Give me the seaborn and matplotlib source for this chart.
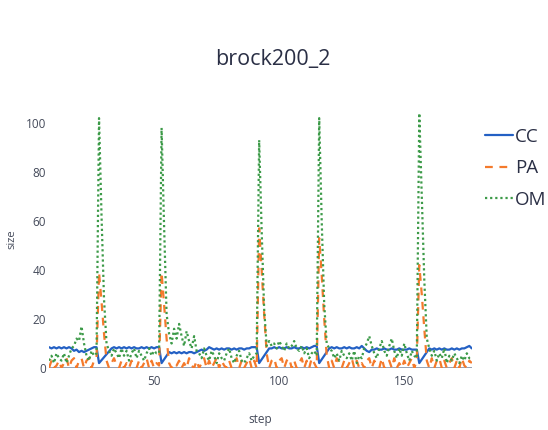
import numpy as np
import pandas as pd
import seaborn as sns
import matplotlib.pyplot as plt

# steps shown on the x axis
steps = list(range(8, 178))

cc = [8.5, 8, 8.5, 8, 8.5, 8, 8.5, 8, 8.5, 8,
      7, 7.5, 6.5, 7, 6.5, 7, 7.5, 8, 8.5, 8.5,
      2, 3.2, 4.4, 5.6, 6.8, 8, 8.5, 8, 8.5, 8,
      8.5, 8, 8.5, 8, 8.5, 8, 8, 8.5, 8, 8.5,
      8, 8.5, 8, 8.5, 8.5, 2, 3.5, 5, 6.5, 6,
      6.5, 6, 6.5, 6, 6.5, 6, 6.5, 6.5, 6, 6.5,
      7, 7.5, 7, 7.5, 8.5, 8, 7.5, 8, 7.5, 8,
      7.5, 8, 8, 7.5, 8, 7.5, 8, 8, 7.5, 8,
      8, 8.5, 8.5, 8.5, 2, 3.5, 5, 6.5, 8, 8,
      8.5, 8, 8.5, 8, 8, 8.5, 8, 8, 8.5, 8,
      8, 8.5, 8, 8.5, 8, 8.5, 9, 9, 2, 3.5,
      5, 6.5, 8, 8.5, 8, 8.5, 8, 8, 8.5, 8,
      8.5, 8, 8, 8.5, 8, 9, 8, 7, 6.5, 7.5,
      7.5, 8, 7.5, 7.5, 8, 7.5, 7.5, 8, 7.5, 7.5,
      8, 7.5, 7.5, 7.5, 8, 7.5, 7.5, 7.5, 2, 3.5,
      5, 6.5, 8, 7.5, 8, 7.5, 8, 7.5, 8, 7.5,
      7.5, 8, 7.5, 8, 7.5, 8, 8, 8.5, 9, 8]

pa = [0, 3, 0, 1, 3, 0, 2, 4, 0, 3,
      4, 0, 3, 4, 0, 3, 4, 0, 3, 4,
      39, 27, 14, 3, 0, 2, 4, 1, 0, 3,
      0, 2, 0, 3, 1, 0, 3, 0, 2, 4,
      0, 3, 0, 2, 1, 39, 26, 12, 2, 0,
      2, 1, 3, 0, 2, 0, 4, 1, 0, 3,
      0, 2, 4, 0, 3, 0, 2, 4, 0, 3,
      1, 0, 3, 0, 2, 4, 0, 3, 0, 2,
      4, 0, 3, 0, 57, 40, 22, 6, 0, 3,
      4, 0, 3, 4, 0, 3, 4, 0, 3, 0,
      2, 4, 0, 3, 0, 4, 2, 0, 53, 38,
      20, 5, 0, 3, 0, 4, 2, 0, 3, 0,
      2, 4, 0, 3, 0, 2, 0, 3, 4, 0,
      3, 1, 0, 4, 0, 2, 3, 0, 4, 0,
      2, 0, 3, 0, 2, 4, 0, 3, 42, 30,
      16, 3, 0, 4, 0, 3, 4, 0, 3, 0,
      2, 4, 0, 3, 0, 4, 1, 0, 3, 2]

om = [3, 5, 2, 6, 4, 3, 6, 2, 5, 8,
      9, 12, 11, 17, 10, 5, 3, 7, 5, 6,
      102, 62, 28, 10, 7, 5, 8, 6, 4, 8,
      5, 7, 3, 6, 8, 4, 7, 5, 3, 6,
      8, 5, 7, 6, 6, 98, 58, 22, 14, 10,
      16, 12, 18, 13, 9, 15, 11, 8, 13, 7,
      6, 4, 8, 5, 3, 7, 5, 2, 6, 4,
      3, 6, 8, 4, 2, 5, 7, 3, 2, 4,
      6, 3, 5, 6, 93, 56, 24, 9, 11, 9,
      10, 8, 11, 9, 7, 10, 8, 9, 11, 8,
      7, 9, 6, 8, 4, 6, 7, 5, 102, 60,
      26, 10, 8, 7, 4, 6, 3, 7, 5, 4,
      6, 3, 7, 2, 5, 4, 8, 10, 13, 9,
      6, 4, 8, 11, 7, 5, 9, 12, 7, 4,
      8, 5, 10, 6, 3, 7, 5, 4, 104, 70,
      36, 12, 8, 5, 7, 3, 6, 4, 8, 2,
      5, 3, 6, 4, 2, 5, 3, 6, 4, 4]

series = ["CC", "PA", "OM"]
colors = {"CC": "#2360c4", "PA": "#f47a2c", "OM": "#3c9a48"}

df = pd.concat([
    pd.DataFrame({"step": steps, "size": vals, "series": name})
    for name, vals in zip(series, [cc, pa, om])
])

sns.set_style("white")
plt.rcParams["font.family"] = ["Open Sans", "DejaVu Sans"]

fig = plt.figure(figsize=(5.48, 4.30), dpi=100)
ax = fig.add_axes([0.0894, 0.1442, 0.7716, 0.5982])

ax.axhline(0, color="#8c9ab0", lw=1.3, zorder=0)
sns.lineplot(data=df, x="step", y="size", hue="series", style="series",
             palette=colors, hue_order=series, style_order=series,
             dashes={"CC": "", "PA": (3.5, 3), "OM": (1, 1.3)},
             linewidth=1.6, ax=ax)

ax.set_xlim(8, 177)
ax.set_ylim(0, 105)
ax.set_xticks([50, 100, 150])
ax.set_yticks([0, 20, 40, 60, 80, 100])
for s in ax.spines.values():
    s.set_visible(False)
ax.tick_params(axis="both", length=0, labelsize=8.5, colors="#444a5a")
ax.tick_params(axis="y", pad=2)
ax.tick_params(axis="x", pad=5)
ax.set_xlabel("step", fontsize=8.5, color="#444a5a", labelpad=18)
ax.set_ylabel("size", fontsize=8, color="#444a5a", labelpad=6)

fig.suptitle("brock200_2", x=0.497, y=0.885, fontsize=15.5, color="#2a2f45")

handles, labels = ax.get_legend_handles_labels()
ax.legend(handles, labels, loc="upper left", bbox_to_anchor=(0.885, 0.703),
          bbox_transform=fig.transFigure, frameon=False, fontsize=13.5,
          handlelength=1.5, handletextpad=0.1, labelspacing=0.72,
          borderaxespad=0, borderpad=0, labelcolor="#2a2f45")

fig.savefig("out.png", dpi=100)
